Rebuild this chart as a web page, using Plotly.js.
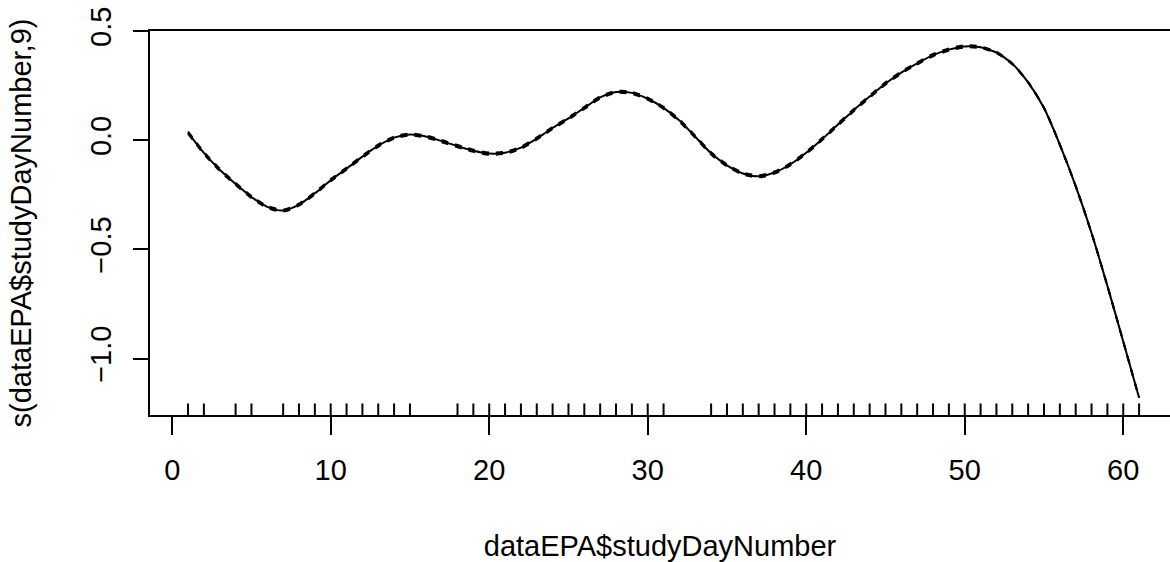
<!DOCTYPE html>
<html>
<head>
<meta charset="utf-8">
<script src="https://cdn.plot.ly/plotly-3.0.1.min.js"></script>
<style>html,body{margin:0;padding:0;background:#fff;}#chart{width:1170px;height:562px;}</style>
</head>
<body>
<div id="chart"></div>
<script>
// Smooth term s(dataEPA$studyDayNumber,9) at each day
const curveDays = [1,2,3,4,5,6,7,8,9,10,11,12,13,14,15,16,17,18,19,20,21,22,23,24,25,26,27,28,29,30,31,32,33,34,35,36,37,38,39,40,41,42,43,44,45,46,47,48,49,50,51,52,53,54,55,56,57,58,59,60,61];
const fitValues = [0.035,-0.058,-0.135,-0.2,-0.26,-0.305,-0.322,-0.295,-0.243,-0.183,-0.13,-0.075,-0.025,0.012,0.026,0.017,-0.004,-0.027,-0.048,-0.061,-0.057,-0.034,0.008,0.056,0.1,0.148,0.196,0.221,0.217,0.19,0.148,0.09,0.016,-0.06,-0.115,-0.152,-0.165,-0.148,-0.11,-0.057,0.005,0.072,0.138,0.2,0.26,0.31,0.352,0.39,0.415,0.43,0.426,0.402,0.35,0.265,0.148,-0.02,-0.21,-0.425,-0.667,-0.922,-1.18];
// standard-error half width (very small: dashed bands hug the fit)
const seValues = [0.005,0.005,0.005,0.005,0.005,0.005,0.005,0.005,0.005,0.005,0.005,0.005,0.005,0.005,0.005,0.005,0.005,0.005,0.005,0.005,0.005,0.005,0.005,0.005,0.005,0.005,0.005,0.005,0.005,0.005,0.005,0.005,0.005,0.005,0.005,0.005,0.005,0.005,0.005,0.005,0.005,0.005,0.005,0.005,0.005,0.005,0.005,0.005,0.005,0.005,0.004,0.003,0.002,0.001,0,0,0,0,0,0,0];
// Rug: observed study days
const rugDays = [1,2,4,5,7,8,9,10,11,12,13,14,15,18,19,20,21,22,23,24,25,26,27,28,29,30,31,34,35,36,37,38,39,40,41,42,43,44,45,46,47,48,49,50,51,52,53,54,55,56,57,58,59,60,61];
// Axis ticks
const xTickVals = [0,10,20,30,40,50,60];
const xTickText = ["0","10","20","30","40","50","60"];
const yTickVals = [-1,-0.5,0,0.5];
const yTickText = ["\u22121.0","\u22120.5","0.0","0.5"];
const xTitle = "dataEPA$studyDayNumber";
const yTitle = "s(dataEPA$studyDayNumber,9)";

const upper = fitValues.map((v,i)=>v+seValues[i]);
const lower = fitValues.map((v,i)=>v-seValues[i]);

const FONT = "Liberation Sans, Arial, Helvetica, sans-serif";

const traces = [
  {x: curveDays, y: fitValues, mode: 'lines', line: {color: '#000', width: 2, shape: 'spline', smoothing: 0.8}, hoverinfo: 'skip'},
  {x: curveDays, y: upper, mode: 'lines', line: {color: '#000', width: 2, dash: '7px,7px', shape: 'spline', smoothing: 0.8}, hoverinfo: 'skip'},
  {x: curveDays, y: lower, mode: 'lines', line: {color: '#000', width: 2, dash: '7px,7px', shape: 'spline', smoothing: 0.8}, hoverinfo: 'skip'}
];

const shapes = rugDays.map(d => ({
  type: 'line', xref: 'x', yref: 'paper', x0: d, x1: d, y0: 0, y1: 0.03,
  line: {color: '#000', width: 2}
}));

const layout = {
  width: 1170, height: 562,
  margin: {l: 150, r: 0, t: 31, b: 147, pad: 0},
  paper_bgcolor: '#fff', plot_bgcolor: '#fff',
  showlegend: false,
  font: {family: FONT, size: 29, color: '#000'},
  xaxis: {
    range: [-1.4, 62.95], autorange: false,
    showgrid: false, zeroline: false,
    showline: true, mirror: true, linecolor: '#000', linewidth: 2,
    ticks: 'outside', ticklen: 18, tickwidth: 2, tickcolor: '#000',
    tickmode: 'array', tickvals: xTickVals, ticktext: xTickText,
    ticklabelstandoff: 10,
    title: {text: xTitle, font: {family: FONT, size: 29, color: '#000'}, standoff: 55},
    automargin: false
  },
  yaxis: {
    range: [-1.2586, 0.5005], autorange: false,
    showgrid: false, zeroline: false,
    showline: true, mirror: false, linecolor: '#000', linewidth: 2,
    ticks: 'outside', ticklen: 15, tickwidth: 2, tickcolor: '#000',
    tickmode: 'array', tickvals: yTickVals, ticktext: yTickText,
    tickangle: -90, ticklabelstandoff: 10,
    title: {text: yTitle, font: {family: FONT, size: 29, color: '#000'}, standoff: 45},
    automargin: false
  },
  shapes: shapes
};

Plotly.newPlot('chart', traces, layout, {displayModeBar: false, staticPlot: true});
</script>
</body>
</html>
